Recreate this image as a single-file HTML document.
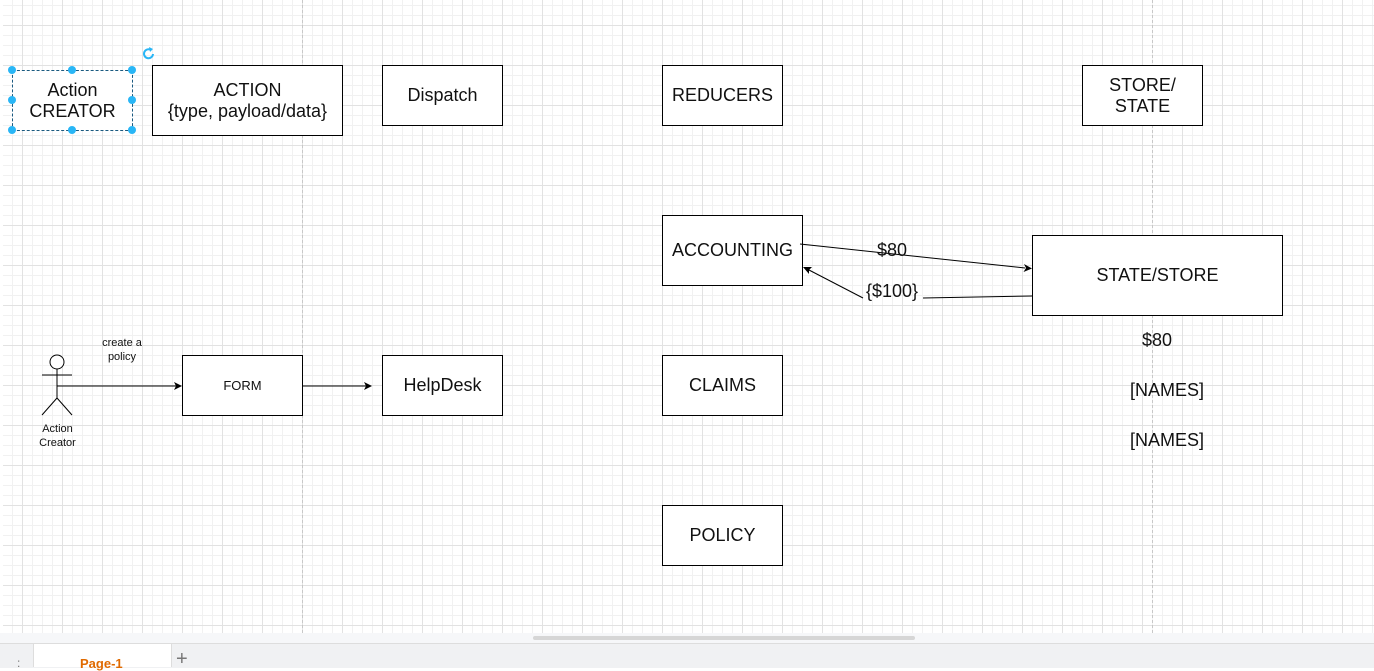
<!DOCTYPE html>
<html><head><style>
body{margin:0;width:1374px;height:667px;overflow:hidden;background:#fff;font-family:"Liberation Sans",sans-serif;position:relative}
#canvas{position:absolute;left:3px;top:0;width:1371px;height:633px;
background-color:#fff;
background-image:linear-gradient(to right,#e2e2e2 1px,transparent 1px),linear-gradient(to bottom,#e2e2e2 1px,transparent 1px),linear-gradient(to right,#f1f1f1 1px,transparent 1px),linear-gradient(to bottom,#f1f1f1 1px,transparent 1px);
background-size:40px 40px,40px 40px,10px 10px,10px 10px;
background-position:19px 25px,19px 25px,9px 5px,9px 5px}
.b{position:absolute;border:1px solid #000;background:#fff;display:flex;align-items:center;justify-content:center;text-align:center;font-size:18px;color:#111;box-sizing:border-box;line-height:21px}
.t{position:absolute;color:#111;font-size:18px}
</style></head><body>
<div id="canvas"></div>
<div style="position:absolute;left:302px;top:0;height:633px;border-left:1px dashed #c8c8c8"></div>
<div style="position:absolute;left:1152px;top:0;height:633px;border-left:1px dashed #c8c8c8"></div>
<div style="position:absolute;left:0;top:633px;width:1374px;height:11px;background:#f6f7f9"></div>
<div style="position:absolute;left:533px;top:636px;width:382px;height:4px;background:#d6d6d6;border-radius:2px"></div>
<div style="position:absolute;left:0;top:643px;width:1374px;height:24px;background:#f0f1f3;border-top:1px solid #ddd"></div>
<div style="position:absolute;left:33px;top:644px;width:137px;height:23px;background:#fff;border-left:1px solid #ddd;border-right:1px solid #ddd"></div>
<div style="position:absolute;left:80px;top:656px;color:#e06a00;font-size:13px;font-weight:bold">Page-1</div>
<div style="position:absolute;left:176px;top:648px;color:#777;font-size:20px">+</div>
<div style="position:absolute;left:17px;top:656px;color:#777;font-size:12px">:</div>

<div class="b" style="left:12px;top:70px;width:121px;height:61px;border:1px dashed #1a5a80">Action<br>CREATOR</div>
<div class="b" style="left:152px;top:65px;width:191px;height:71px">ACTION<br>{type, payload/data}</div>
<div class="b" style="left:382px;top:65px;width:121px;height:61px">Dispatch</div>
<div class="b" style="left:662px;top:65px;width:121px;height:61px">REDUCERS</div>
<div class="b" style="left:1082px;top:65px;width:121px;height:61px">STORE/<br>STATE</div>
<div class="b" style="left:662px;top:215px;width:141px;height:71px">ACCOUNTING</div>
<div class="b" style="left:1032px;top:235px;width:251px;height:81px">STATE/STORE</div>
<div class="b" style="left:182px;top:355px;width:121px;height:61px;font-size:13px">FORM</div>
<div class="b" style="left:382px;top:355px;width:121px;height:61px">HelpDesk</div>
<div class="b" style="left:662px;top:355px;width:121px;height:61px">CLAIMS</div>
<div class="b" style="left:662px;top:505px;width:121px;height:61px">POLICY</div>

<svg style="position:absolute;left:0;top:0" width="1374" height="667">
<g fill="#29b6f6">
<circle cx="12" cy="70" r="4"/><circle cx="72" cy="70" r="4"/><circle cx="132" cy="70" r="4"/>
<circle cx="12" cy="100" r="4"/><circle cx="132" cy="100" r="4"/>
<circle cx="12" cy="130" r="4"/><circle cx="72" cy="130" r="4"/><circle cx="132" cy="130" r="4"/>
</g>
<path d="M151 50 a4.5 4.5 0 1 0 2 4" stroke="#29b6f6" stroke-width="2" fill="none"/>
<path d="M149 47 l4 2 -3 3z" fill="#29b6f6"/>
<g stroke="#000" fill="none" stroke-width="1">
<circle cx="57" cy="362" r="7" fill="#fff"/>
<line x1="42" y1="375" x2="72" y2="375"/><line x1="57" y1="369" x2="57" y2="398"/>
<line x1="57" y1="398" x2="42" y2="415"/><line x1="57" y1="398" x2="72" y2="415"/>
<line x1="57" y1="386" x2="176" y2="386"/>
<line x1="303" y1="386" x2="366" y2="386"/>
<line x1="800" y1="244" x2="1025" y2="268"/>
<line x1="1032" y1="296" x2="923" y2="298"/>
<line x1="863" y1="298" x2="809" y2="270"/>
</g>
<g fill="#000">
<path d="M182 386 l-8 -4 2 4 -2 4z"/>
<path d="M372 386 l-8 -4 2 4 -2 4z"/>
<path d="M1032 268.5 l-8 -4.5 2 4 -2.5 4z"/>
<path d="M803 267 l9 0 -3 3 0 4z"/>
</g>
</svg>
<div class="t" style="left:877px;top:240px">$80</div>
<div class="t" style="left:866px;top:281px">{$100}</div>
<div class="t" style="left:1142px;top:330px">$80</div>
<div class="t" style="left:1130px;top:380px">[NAMES]</div>
<div class="t" style="left:1130px;top:430px">[NAMES]</div>
<div class="t" style="left:100px;top:336px;font-size:11px;text-align:center;line-height:14px;width:44px">create a policy</div>
<div class="t" style="left:30px;top:422px;font-size:11px;text-align:center;line-height:14px;width:55px">Action Creator</div>
</body></html>
